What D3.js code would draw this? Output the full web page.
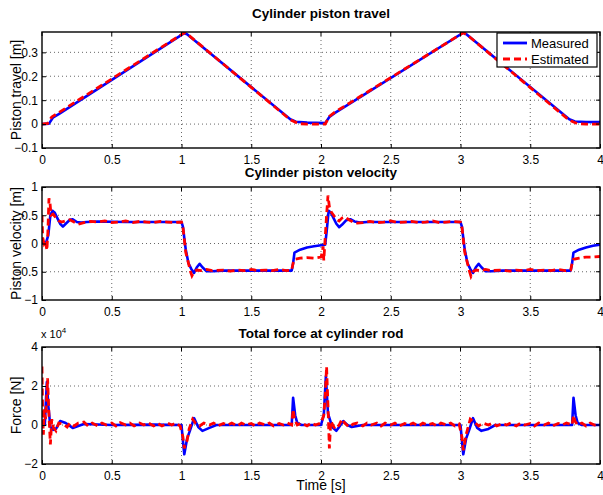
<!DOCTYPE html>
<html>
<head>
<meta charset="utf-8">
<script src="https://cdn.jsdelivr.net/npm/d3@7"></script>
<style>
  body { margin: 0; background: #fff; }
  svg { display: block; font-family: "Liberation Sans", Arial, sans-serif; }
</style>
</head>
<body>
<svg id="chart" width="603" height="495"></svg>
<script>
// ---------------- DATA ----------------
const xTicks = [0, 0.5, 1, 1.5, 2, 2.5, 3, 3.5, 4];
const xTickLabels = ["0", "0.5", "1", "1.5", "2", "2.5", "3", "3.5", "4"];
const seriesNames = ["Measured", "Estimated"];

const travelTicks = [-0.1, 0, 0.1, 0.2, 0.3];
const velTicks = [-1, -0.5, 0, 0.5, 1];
const forceTicks = [-2, 0, 2, 4];

const travelMeasured = [[0,0],[0.05,0.002],[0.08,0.028],[0.12,0.042],[1.02,0.38],[1.04,0.376],[1.78,0.02],[1.82,0.01],[1.9,0.006],[2.03,0.004],[2.06,0.03],[2.1,0.047],[3.02,0.382],[3.04,0.377],[3.78,0.02],[3.82,0.011],[3.9,0.009],[4.0,0.008]];
const travelEstimated = [[0,0],[0.04,0.003],[0.07,0.03],[0.12,0.048],[1.02,0.382],[1.05,0.372],[1.78,0.018],[1.84,0.002],[1.9,0.0],[2.03,0.0],[2.06,0.032],[2.1,0.05],[3.02,0.382],[3.05,0.372],[3.78,0.016],[3.84,0.001],[3.9,0.0],[4.0,0.0]];

const velMeasured = [[0,0],[0.03,0.02],[0.045,0.15],[0.06,0.5],[0.075,0.58],[0.09,0.55],[0.11,0.45],[0.13,0.35],[0.15,0.3],[0.17,0.35],[0.2,0.42],[0.22,0.43],[0.25,0.38],[0.28,0.37],[0.32,0.38],[0.4,0.39],[0.6,0.38],[0.8,0.38],[1.0,0.38],[1.01,0.3],[1.03,-0.1],[1.05,-0.35],[1.07,-0.45],[1.09,-0.52],[1.11,-0.42],[1.13,-0.36],[1.15,-0.42],[1.18,-0.49],[1.22,-0.49],[1.3,-0.48],[1.5,-0.48],[1.79,-0.48],[1.8,-0.35],[1.81,-0.16],[1.85,-0.11],[1.9,-0.07],[1.95,-0.05],[2.0,-0.03],[2.03,-0.02],[2.04,0.2],[2.055,0.58],[2.07,0.55],[2.09,0.45],[2.11,0.35],[2.13,0.29],[2.15,0.33],[2.18,0.41],[2.21,0.43],[2.24,0.39],[2.28,0.37],[2.33,0.38],[2.4,0.38],[2.6,0.38],[3.0,0.38],[3.01,0.3],[3.03,-0.1],[3.05,-0.35],[3.07,-0.45],[3.09,-0.52],[3.11,-0.42],[3.13,-0.36],[3.15,-0.42],[3.18,-0.49],[3.22,-0.49],[3.3,-0.48],[3.5,-0.48],[3.79,-0.48],[3.8,-0.35],[3.81,-0.16],[3.85,-0.11],[3.9,-0.07],[3.95,-0.04],[4.0,-0.02]];

const velEstimated = [[0,0.5],[0.005,0.1],[0.015,0.0],[0.025,0.05],[0.035,-0.12],[0.042,0.2],[0.05,0.8],[0.058,0.7],[0.065,0.5],[0.08,0.52],[0.1,0.45],[0.12,0.4],[0.14,0.38],[0.17,0.4],[0.2,0.42],[0.23,0.38],[0.26,0.34],[0.3,0.37],[0.35,0.39],[0.4,0.38],[0.45,0.4],[0.5,0.37],[0.55,0.38],[0.6,0.4],[0.65,0.37],[0.7,0.39],[0.75,0.38],[0.8,0.37],[0.85,0.39],[0.9,0.38],[0.95,0.37],[1.0,0.38],[1.01,0.3],[1.03,-0.15],[1.05,-0.35],[1.065,-0.5],[1.075,-0.57],[1.09,-0.5],[1.11,-0.47],[1.14,-0.48],[1.18,-0.46],[1.22,-0.48],[1.3,-0.47],[1.35,-0.49],[1.4,-0.47],[1.45,-0.48],[1.5,-0.46],[1.55,-0.48],[1.6,-0.47],[1.65,-0.48],[1.7,-0.46],[1.75,-0.48],[1.79,-0.47],[1.8,-0.35],[1.81,-0.28],[1.85,-0.26],[1.9,-0.25],[1.95,-0.26],[2.0,-0.24],[2.01,-0.15],[2.015,-0.05],[2.02,-0.3],[2.03,0.1],[2.04,0.5],[2.05,0.85],[2.06,0.65],[2.075,0.55],[2.09,0.5],[2.11,0.43],[2.13,0.4],[2.15,0.45],[2.17,0.47],[2.2,0.42],[2.23,0.38],[2.26,0.36],[2.3,0.37],[2.35,0.39],[2.4,0.37],[2.45,0.38],[2.5,0.4],[2.55,0.37],[2.6,0.38],[2.65,0.39],[2.7,0.37],[2.75,0.38],[2.8,0.4],[2.85,0.37],[2.9,0.38],[2.95,0.39],[3.0,0.38],[3.01,0.3],[3.03,-0.15],[3.05,-0.35],[3.065,-0.5],[3.075,-0.58],[3.09,-0.5],[3.11,-0.47],[3.14,-0.48],[3.18,-0.46],[3.22,-0.48],[3.3,-0.47],[3.35,-0.49],[3.4,-0.47],[3.45,-0.48],[3.5,-0.46],[3.55,-0.48],[3.6,-0.47],[3.65,-0.48],[3.7,-0.46],[3.75,-0.48],[3.79,-0.47],[3.8,-0.35],[3.81,-0.28],[3.85,-0.26],[3.9,-0.24],[3.95,-0.24],[4.0,-0.23]];

// force in units of 1e4 N
const forceMeasured = [[0,0],[0.01,0.2],[0.02,0],[0.028,1.2],[0.035,2.2],[0.045,1.0],[0.06,-0.1],[0.08,-0.25],[0.1,-0.2],[0.13,0.2],[0.17,0.1],[0.22,-0.15],[0.26,-0.05],[0.3,0.05],[0.5,0.0],[0.8,0.02],[1.0,0],[1.01,-0.8],[1.02,-1.5],[1.04,-0.7],[1.06,-0.3],[1.09,0.35],[1.12,-0.1],[1.15,-0.3],[1.2,-0.15],[1.25,0],[1.5,0],[1.79,0],[1.8,1.4],[1.815,0.5],[1.83,0.1],[1.86,0],[2.0,0],[2.02,0.5],[2.035,2.5],[2.05,0.6],[2.08,-0.1],[2.11,-0.3],[2.13,-0.1],[2.16,0.2],[2.19,0],[2.22,-0.1],[2.3,0],[2.6,0],[3.0,0],[3.01,-0.8],[3.02,-1.5],[3.04,-0.7],[3.06,-0.3],[3.09,0.35],[3.12,-0.15],[3.15,-0.3],[3.2,-0.2],[3.25,0],[3.5,0],[3.8,0],[3.81,1.4],[3.825,0.5],[3.84,0.1],[3.87,0],[4.0,0]];

const forceEstimated = [[0,3.0],[0.005,0.5],[0.01,-0.5],[0.015,0.8],[0.025,0.3],[0.032,1.2],[0.04,2.4],[0.05,0.5],[0.06,-1.0],[0.07,0.3],[0.08,-0.1],[0.1,-0.3],[0.12,0.1],[0.15,0.05],[0.18,-0.1],[0.2,0.1],[0.23,-0.05],[0.26,0.1],[0.3,0.15],[0.33,-0.05],[0.36,0.1],[0.4,-0.05],[0.43,0.1],[0.46,0.0],[0.5,0.1],[0.53,-0.05],[0.56,0.12],[0.6,0.0],[0.63,0.1],[0.66,-0.05],[0.7,0.1],[0.73,0.0],[0.76,0.12],[0.8,-0.05],[0.83,0.08],[0.86,-0.05],[0.9,0.1],[0.93,0.0],[0.96,0.1],[0.99,-0.05],[1.01,-0.6],[1.02,-1.2],[1.03,-0.9],[1.04,-0.8],[1.055,-0.2],[1.08,0.3],[1.1,0.1],[1.13,-0.05],[1.16,0.1],[1.2,0.0],[1.23,0.1],[1.26,-0.05],[1.3,0.08],[1.33,0.0],[1.36,0.1],[1.4,-0.05],[1.43,0.1],[1.46,0.0],[1.5,0.08],[1.53,-0.05],[1.56,0.1],[1.6,0.0],[1.63,0.1],[1.66,-0.05],[1.7,0.08],[1.73,0.0],[1.76,0.1],[1.79,0.0],[1.8,0.8],[1.81,0.3],[1.83,0.0],[1.86,0.1],[1.9,-0.05],[1.93,0.1],[1.96,0.0],[2.0,0.1],[2.02,0.5],[2.03,1.5],[2.04,3.0],[2.05,1.0],[2.06,-1.2],[2.07,0.2],[2.1,-0.2],[2.13,0.0],[2.15,0.3],[2.17,0.1],[2.2,-0.1],[2.23,0.05],[2.26,0.1],[2.3,-0.05],[2.33,0.1],[2.36,0.0],[2.4,0.1],[2.43,-0.05],[2.46,0.1],[2.5,0.0],[2.53,0.1],[2.56,-0.05],[2.6,0.08],[2.63,0.0],[2.66,0.1],[2.7,-0.05],[2.73,0.1],[2.76,0.0],[2.8,0.08],[2.83,-0.05],[2.86,0.1],[2.9,0.0],[2.93,0.1],[2.96,-0.05],[2.99,0.05],[3.01,-0.6],[3.02,-1.3],[3.03,-0.9],[3.04,-0.5],[3.07,0.3],[3.1,0.15],[3.13,-0.05],[3.16,0.1],[3.2,0.0],[3.23,0.1],[3.26,-0.05],[3.3,0.08],[3.33,0.0],[3.36,0.1],[3.4,-0.05],[3.43,0.1],[3.46,0.0],[3.5,0.08],[3.53,-0.05],[3.56,0.1],[3.6,0.0],[3.63,0.1],[3.66,-0.05],[3.7,0.08],[3.73,0.0],[3.76,0.1],[3.8,0.0],[3.81,0.5],[3.82,0.2],[3.84,0.0],[3.87,0.1],[3.9,-0.05],[3.93,0.1],[3.96,0.0],[4.0,0.05]];

// ---------------- DRAW ----------------
const svg = d3.select("#chart");
const X0 = 42, X1 = 600;
const x = d3.scaleLinear().domain([0, 4]).range([X0, X1]);
const fmtNum = d => d === 0 ? "0" : (d < 0 ? "\u2212" + Math.abs(d) : String(d));

const panels = [
  { title: "Cylinder piston travel", ylabel: "Piston travel [m]", top: 32, bottom: 148, titleY: 18,
    domain: [-0.1, 0.385], ticks: travelTicks, data: [travelMeasured, travelEstimated] },
  { title: "Cylinder piston velocity", ylabel: "Piston velocity [m]", top: 187, bottom: 300, titleY: 177,
    domain: [-1, 1], ticks: velTicks, data: [velMeasured, velEstimated] },
  { title: "Total force at cylinder rod", ylabel: "Force [N]", top: 347, bottom: 464, titleY: 338,
    domain: [-2, 4], ticks: forceTicks, data: [forceMeasured, forceEstimated], exp: true }
];

const colors = ["#0000ff", "#ff0000"];

panels.forEach((p, i) => {
  const y = d3.scaleLinear().domain(p.domain).range([p.bottom, p.top]);
  const g = svg.append("g");
  const clipId = "clip" + i;
  svg.append("clipPath").attr("id", clipId).append("rect")
    .attr("x", X0).attr("y", p.top).attr("width", X1 - X0).attr("height", p.bottom - p.top);

  // grid
  g.selectAll(".vg").data(xTicks.slice(1, -1)).join("line")
    .attr("x1", d => x(d)).attr("x2", d => x(d)).attr("y1", p.top).attr("y2", p.bottom)
    .attr("stroke", "#000").attr("stroke-width", 0.6).attr("stroke-dasharray", "1,3");
  g.selectAll(".hg").data(p.ticks.filter(t => y(t) > p.top + 1 && y(t) < p.bottom - 1)).join("line")
    .attr("x1", X0).attr("x2", X1).attr("y1", d => y(d)).attr("y2", d => y(d))
    .attr("stroke", "#000").attr("stroke-width", 0.6).attr("stroke-dasharray", "1,3");

  // lines
  const line = d3.line().x(d => x(d[0])).y(d => y(d[1]));
  const lg = g.append("g").attr("clip-path", `url(#${clipId})`);
  lg.append("path").datum(p.data[0]).attr("d", line)
    .attr("fill", "none").attr("stroke", colors[0]).attr("stroke-width", 2.6).attr("stroke-linejoin", "round");
  lg.append("path").datum(p.data[1]).attr("d", line)
    .attr("fill", "none").attr("stroke", colors[1]).attr("stroke-width", 2.8)
    .attr("stroke-dasharray", "7,4");

  // axes
  const ax = g.append("g").attr("transform", `translate(0,${p.bottom})`)
    .call(d3.axisBottom(x).tickValues(xTicks).tickFormat((d, j) => xTickLabels[j]).tickSizeInner(-4).tickSizeOuter(0).tickPadding(7));
  const ay = g.append("g").attr("transform", `translate(${X0},0)`)
    .call(d3.axisLeft(y).tickValues(p.ticks).tickFormat(fmtNum).tickSizeInner(-4).tickSizeOuter(0).tickPadding(4));
  [ax, ay].forEach(a => {
    a.select(".domain").remove();
    a.selectAll("text").attr("font-size", 12).attr("fill", "#000").attr("font-family", "Liberation Sans, Arial, sans-serif");
    a.selectAll("line").attr("stroke", "#000");
  });
  // top & right ticks
  g.selectAll(".tt").data(xTicks).join("line")
    .attr("x1", d => x(d)).attr("x2", d => x(d)).attr("y1", p.top).attr("y2", p.top + 4).attr("stroke", "#000");
  g.selectAll(".rt").data(p.ticks).join("line")
    .attr("x1", X1 - 4).attr("x2", X1).attr("y1", d => y(d)).attr("y2", d => y(d)).attr("stroke", "#000");

  // frame
  g.append("rect").attr("x", X0).attr("y", p.top).attr("width", X1 - X0).attr("height", p.bottom - p.top)
    .attr("fill", "none").attr("stroke", "#000").attr("stroke-width", 1.4);

  // title
  svg.append("text").attr("x", (X0 + X1) / 2).attr("y", p.titleY).attr("text-anchor", "middle")
    .attr("font-size", 13.5).attr("font-weight", "bold").text(p.title);
  // ylabel
  svg.append("text").attr("transform", `translate(21,${(p.top + p.bottom) / 2}) rotate(-90)`)
    .attr("text-anchor", "middle").attr("font-size", 14).text(p.ylabel);

  if (p.exp) {
    const t = svg.append("text").attr("x", 41).attr("y", p.top - 9).attr("font-size", 11);
    t.append("tspan").text("x 10");
    t.append("tspan").attr("dy", -5).attr("font-size", 8).text("4");
  }
});

// x label
svg.append("text").attr("x", 321).attr("y", 490).attr("text-anchor", "middle")
  .attr("font-size", 14).text("Time [s]");

// legend
const leg = svg.append("g");
leg.append("rect").attr("x", 497).attr("y", 33).attr("width", 100).attr("height", 34)
  .attr("fill", "#fff").attr("stroke", "#000").attr("stroke-width", 1.2);
seriesNames.forEach((name, i) => {
  const yy = 43 + i * 16;
  leg.append("line").attr("x1", 503).attr("x2", 527).attr("y1", yy).attr("y2", yy)
    .attr("stroke", colors[i]).attr("stroke-width", 2.8)
    .attr("stroke-dasharray", i === 1 ? "7,4" : null);
  leg.append("text").attr("x", 531).attr("y", yy + 4.5).attr("font-size", 13).text(name);
});
</script>
</body>
</html>
